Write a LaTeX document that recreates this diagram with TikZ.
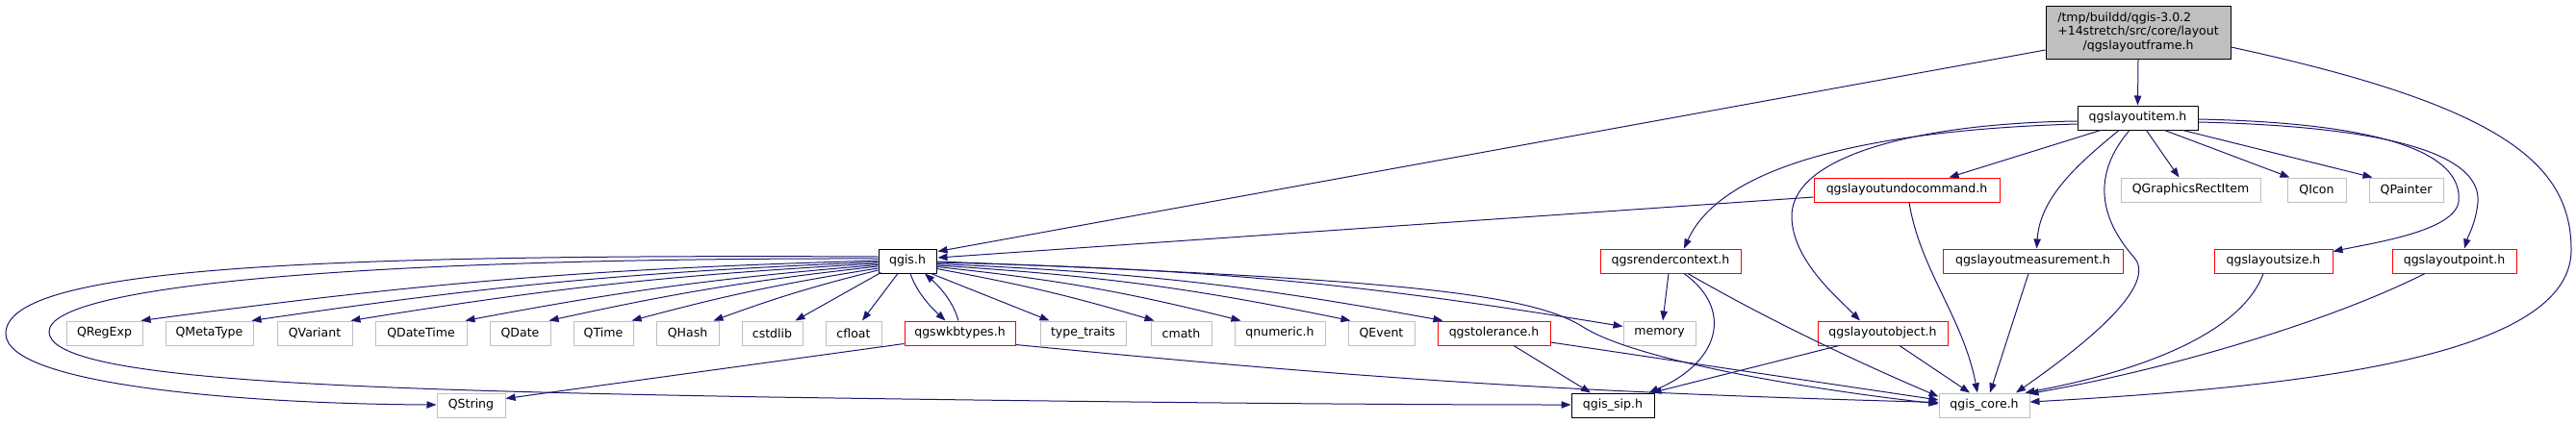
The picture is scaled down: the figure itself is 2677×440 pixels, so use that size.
\documentclass[tikz,border=0pt]{standalone}
\usepackage{fontspec}
\setmainfont{DejaVu Sans}
\usetikzlibrary{arrows.meta,calc}
\definecolor{edgec}{HTML}{191970}
\definecolor{grayb}{HTML}{BFBFBF}
\definecolor{redb}{HTML}{FF0000}
\begin{document}
\begin{tikzpicture}[x=0.75pt,y=-0.75pt,font=\fontsize{9.4}{10.9}\selectfont]
\tikzset{
 nbox/.style={draw, line width=0.75pt, inner sep=0pt, minimum height=25*0.75pt, anchor=center},
 kbox/.style={nbox, draw=black},
 rbox/.style={nbox, draw=redb},
 gbox/.style={nbox, draw=grayb},
 bw/.style={minimum width=#1*0.75pt},
 dep/.style={draw=edgec, line width=0.75pt, -{Triangle[length=7.5pt,width=5.5pt]}},
}
\useasboundingbox (0,0) rectangle (2677,440);
% nodes
\node[kbox,fill=grayb,bw=192,minimum height=55*0.75pt,align=center] (root) at (2222,33.5)
  {\rlap{/tmp/buildd/qgis-3.0.2}\phantom{+14stretch/src/core/layout}\\+14stretch/src/core/layout\\/qgslayoutframe.h};
\node[kbox,bw=125] (item) at (2221.5,122.5) {qgslayoutitem.h};
\node[rbox,bw=193] (undo) at (1981.5,197.5) {qgslayoutundocommand.h};
\node[gbox,bw=145] (qgri) at (2276.5,197.5) {QGraphicsRectItem};
\node[gbox,bw=61] (qicon) at (2407.5,197.5) {QIcon};
\node[gbox,bw=77] (qpainter) at (2500.5,197.5) {QPainter};
\node[kbox,bw=60] (qgis) at (943,271.5) {qgis.h};
\node[rbox,bw=146] (render) at (1736,271.5) {qgsrendercontext.h};
\node[rbox,bw=187] (meas) at (2112.5,271.5) {qgslayoutmeasurement.h};
\node[rbox,bw=123] (size) at (2362.5,271.5) {qgslayoutsize.h};
\node[rbox,bw=129] (point) at (2550.5,271.5) {qgslayoutpoint.h};
\node[gbox,bw=79] (qregexp) at (108.5,346.5) {QRegExp};
\node[gbox,bw=91] (qmetatype) at (217.5,346.5) {QMetaType};
\node[gbox,bw=78] (qvariant) at (327,346.5) {QVariant};
\node[gbox,bw=95] (qdatetime) at (437.5,346.5) {QDateTime};
\node[gbox,bw=63] (qdate) at (540.5,346.5) {QDate};
\node[gbox,bw=62] (qtime) at (627,346.5) {QTime};
\node[gbox,bw=65] (qhash) at (714.5,346.5) {QHash};
\node[gbox,bw=63] (cstdlib) at (802.5,346.5) {cstdlib};
\node[gbox,bw=58] (cfloat) at (887,346.5) {cfloat};
\node[rbox,bw=115] (wkb) at (997.5,346.5) {qgswkbtypes.h};
\node[gbox,bw=89] (typetraits) at (1125.5,346.5) {type\_traits};
\node[gbox,bw=63] (cmath) at (1227.5,346.5) {cmath};
\node[gbox,bw=94] (qnumeric) at (1330,346.5) {qnumeric.h};
\node[gbox,bw=69] (qevent) at (1435.5,346.5) {QEvent};
\node[rbox,bw=117] (tol) at (1552.5,346.5) {qgstolerance.h};
\node[gbox,bw=75] (memory) at (1724.5,346.5) {memory};
\node[rbox,bw=135] (lobj) at (1956.5,346.5) {qgslayoutobject.h};
\node[gbox,bw=71] (qstring) at (489.5,421.5) {QString};
\node[kbox,bw=86] (sip) at (1676,421.5) {qgis\_sip.h};
\node[gbox,bw=94] (core) at (2062,421.5) {qgis\_core.h};
% edges from root
\draw[dep] (root.south) -- (item.north);
\draw[dep] ($(root.west)+(0,18.5)$) -- ($(qgis.north east)+(1,3)$);
\draw[dep] ($(root.east)+(0,15.5)$) .. controls (2600,110) and (2672,170) .. (2672,260)
  .. controls (2672,370) and (2400,402) .. ($(core.east)+(0,-3.5)$);
% edges from item
\draw[dep] ($(item.west)+(0,6.5)$) .. controls (1950,135) and (1790,170) .. ($(render.north)+(14,0)$);
\draw[dep] ($(item.west)+(0,3.5)$) .. controls (2000,128) and (1862,160) .. (1862,225)
  .. controls (1862,270) and (1910,310) .. ($(lobj.north)+(-23.5,0)$);
\draw[dep] ($(item.south)+(-38.5,0)$) -- ($(undo.north)+(44,0)$);
\draw[dep] ($(item.south)+(-19.5,0)$) .. controls (2160,170) and (2120,205) .. ($(meas.north)+(4,0)$);
\draw[dep] ($(item.south)+(-8.5,0)$) .. controls (2175,180) and (2180,225) .. (2218,268)
  .. controls (2245,300) and (2150,370) .. ($(core.north)+(33,0)$);
\draw[dep] ($(item.south)+(9,0)$) -- ($(qgri.north)+(-12,0)$);
\draw[dep] ($(item.south)+(28,0)$) -- ($(qicon.north)+(-28,0)$);
\draw[dep] ($(item.south)+(47,0)$) -- ($(qpainter.north)+(-35,0)$);
\draw[dep] ($(item.east)+(0,1.5)$) .. controls (2480,128) and (2560,160) .. (2555,210)
  .. controls (2550,240) and (2470,252) .. ($(size.north east)+(0,3)$);
\draw[dep] ($(item.east)+(0,4.5)$) .. controls (2500,132) and (2578,165) .. (2575,210)
  .. controls (2573,232) and (2565,245) .. ($(point.north)+(10.5,0)$);
% undo
\draw[dep] ($(undo.west)+(0,7.5)$) -- ($(qgis.east)+(1,-3.5)$);
\draw[dep] ($(undo.south)+(2.5,0)$) .. controls (1995,280) and (2040,330) .. ($(core.north)+(-7,0)$);
% render
\draw[dep] ($(render.south)+(-2,0)$) -- ($(memory.north)+(3.5,0)$);
\draw[dep] ($(render.south)+(14,0)$) .. controls (1800,320) and (1790,375) .. ($(sip.north east)+(-6,0)$);
\draw[dep] ($(render.south)+(18,0)$) .. controls (1850,340) and (1950,385) .. ($(core.west)+(0,-9)$);
% lobj, meas, size, point
\draw[dep] ($(lobj.south)+(17.5,0)$) -- ($(core.north)+(-15,0)$);
\draw[dep] ($(lobj.south)+(-45.5,0)$) -- ($(sip.north east)+(-3,0)$);
\draw[dep] ($(meas.south)+(-4.5,0)$) -- ($(core.north)+(6,0)$);
\draw[dep] ($(size.south)+(-10.5,0)$) .. controls (2330,345) and (2230,385) .. ($(core.north east)+(-5,0)$);
\draw[dep] ($(point.south)+(-30.5,0)$) .. controls (2420,335) and (2250,385) .. ($(core.north east)+(-1,1)$);
% tolerance
\draw[dep] ($(tol.south)+(20.5,0)$) -- ($(sip.north)+(-23,0)$);
\draw[dep] ($(tol.east)+(0,9.5)$) -- ($(core.west)+(0,-5.5)$);
% wkb
\draw[dep] ($(wkb.south west)+(0,-2)$) -- ($(qstring.east)+(0,-7)$);
\draw[dep] ($(wkb.south east)+(0,-1)$) to[bend right=2] ($(core.west)+(0,-3)$);
\draw[dep] ($(wkb.north)+(-1.5,0)$) .. controls (990,312) and (975,297) .. ($(qgis.south)+(18,0)$);
% qgis
\draw[dep] ($(qgis.east)+(0,0.5)$) .. controls (1450,290) and (1590,305) .. (1645,340)
  .. controls (1700,375) and (1880,405) .. ($(core.west)+(0,-1.5)$);
\draw[dep] ($(qgis.east)+(0,1.5)$) to[bend left=4] ($(memory.west)+(0,-7)$);
\draw[dep] ($(qgis.east)+(0,3)$) to[bend left=4] ($(tol.north west)+(6,0)$);
\draw[dep] ($(qgis.east)+(0,4.5)$) to[bend left=4] ($(qevent.north west)+(3,0)$);
\draw[dep] ($(qgis.east)+(0,6)$) to[bend left=4] ($(qnumeric.north west)+(7,0)$);
\draw[dep] ($(qgis.east)+(0,8)$) to[bend left=3] ($(cmath.north west)+(4,0)$);
\draw[dep] ($(qgis.south east)+(-6,0)$) -- ($(typetraits.north west)+(10,0)$);
\draw[dep] ($(qgis.south)+(3,0)$) .. controls (953,305) and (968,320) .. ($(wkb.north)+(-15,0)$);
\draw[dep] ($(qgis.south)+(-10,0)$) -- ($(cfloat.north)+(9,0)$);
\draw[dep] ($(qgis.south west)+(3,-1)$) -- ($(cstdlib.north east)+(-8,0)$);
\draw[dep] ($(qgis.west)+(0,9.5)$) to[bend right=3] ($(qhash.north east)+(-6,0)$);
\draw[dep] ($(qgis.west)+(0,7.5)$) to[bend right=3] ($(qtime.north east)+(-2,0)$);
\draw[dep] ($(qgis.west)+(0,5.5)$) to[bend right=3] ($(qdate.north east)+(-2,0)$);
\draw[dep] ($(qgis.west)+(0,4)$) to[bend right=3] ($(qdatetime.north east)+(-2,0)$);
\draw[dep] ($(qgis.west)+(0,2.5)$) to[bend right=3] ($(qvariant.north east)+(-2,0)$);
\draw[dep] ($(qgis.west)+(0,1)$) to[bend right=3] ($(qmetatype.north east)+(-2,0)$);
\draw[dep] ($(qgis.west)+(0,-0.5)$) to[bend right=3] ($(qregexp.north east)+(-2,0)$);
\draw[dep] ($(qgis.west)+(0,-4.5)$) .. controls (300,264) and (6,280) .. (6,347)
  .. controls (6,400) and (250,420) .. ($(qstring.west)+(0,-0.5)$);
\draw[dep] ($(qgis.west)+(0,-2.5)$) .. controls (400,268) and (51,295) .. (51,345)
  .. controls (51,395) and (350,405) .. (800,413)
  .. controls (1200,419) and (1450,421) .. ($(sip.west)+(0,-0.5)$);
\end{tikzpicture}
\end{document}
